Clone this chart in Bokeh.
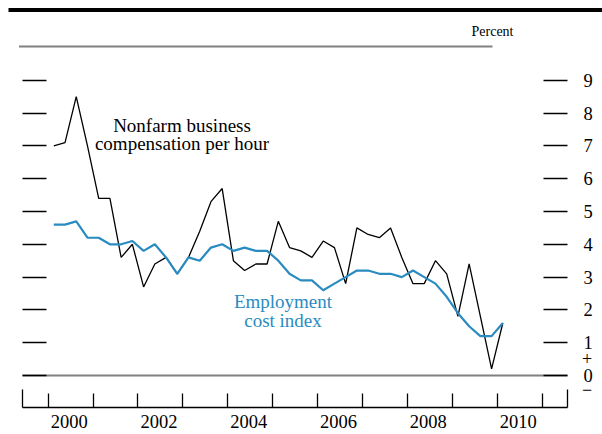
from bokeh.plotting import figure
from bokeh.models import Range1d, LinearAxis, FixedTicker, Label, ColumnDataSource
from bokeh.embed import file_html
from bokeh.resources import INLINE

# ---------------- data ----------------
years = list(range(2000, 2011))
quarter_labels = [f"{y}Q{q}" for y in years for q in (1, 2, 3, 4)][:41]

nonfarm_comp = [7.0, 7.1, 8.5, 7.0,
                5.4, 5.4, 3.6, 4.0,
                2.7, 3.4, 3.6, 3.1,
                3.6, 4.4, 5.3, 5.7,
                3.5, 3.2, 3.4, 3.4,
                4.7, 3.9, 3.8, 3.6,
                4.1, 3.9, 2.8, 4.5,
                4.3, 4.2, 4.5, 3.6,
                2.8, 2.8, 3.5, 3.1,
                1.8, 3.4, 1.8, 0.2,
                1.6]

eci = [4.6, 4.6, 4.7, 4.2,
       4.2, 4.0, 4.0, 4.1,
       3.8, 4.0, 3.6, 3.1,
       3.6, 3.5, 3.9, 4.0,
       3.8, 3.9, 3.8, 3.8,
       3.5, 3.1, 2.9, 2.9,
       2.6, 2.8, 3.0, 3.2,
       3.2, 3.1, 3.1, 3.0,
       3.2, 3.0, 2.8, 2.4,
       1.9, 1.5, 1.2, 1.2,
       1.6]

y_ticks = [0, 1, 2, 3, 4, 5, 6, 7, 8, 9]
year_tick_labels = ["2000", "2002", "2004", "2006", "2008", "2010"]
year_boundaries = list(range(2000, 2012))

# quarter label -> decimal date at mid-quarter
def qpos(lbl):
    return int(lbl[:4]) + (int(lbl[-1]) - 0.5) / 4.0

xq = [qpos(l) for l in quarter_labels]
src = ColumnDataSource(dict(x=xq, q=quarter_labels, nonfarm=nonfarm_comp, eci=eci))

FONT = "Liberation Serif"
BLUE = "#2a8bc0"
GREY = "#808080"

# visible plotting box (axis extents) in data units
XL, XR = 1999.428, 2011.566
YB = -0.966
# whole canvas in data units
CX0, CX1 = 1998.938, 2012.345
CY0, CY1 = -1.799, 11.433

p = figure(width=602, height=434, output_backend="svg", toolbar_location=None,
           x_range=Range1d(CX0, CX1), y_range=Range1d(CY0, CY1),
           x_axis_type=None, y_axis_type=None, min_border=0)
p.outline_line_color = None
p.grid.visible = False
p.background_fill_color = "white"
p.border_fill_color = "white"

# decorations: heavy top rule, grey rule, zero line
p.segment(x0=[1999.116], y0=[11.143], x1=[CX1], y1=[11.143], line_color="black", line_width=4)
p.segment(x0=[1999.35], y0=[10.03], x1=[2009.895], y1=[10.03], line_color=GREY, line_width=2)
p.segment(x0=[XL], y0=[0], x1=[XR], y1=[0], line_color=GREY, line_width=2)

# left ticks (no labels)
la = LinearAxis(ticker=FixedTicker(ticks=[], minor_ticks=y_ticks), fixed_location=XL,
                axis_line_color=None, major_tick_in=0, major_tick_out=0,
                minor_tick_in=24, minor_tick_out=0, minor_tick_line_color="black",
                minor_tick_line_width=1.3)
p.add_layout(la, "left")

# right ticks with labels
ra = LinearAxis(ticker=FixedTicker(ticks=y_ticks, minor_ticks=[]), fixed_location=XR,
                major_tick_in=24, major_tick_out=0, minor_tick_in=0, minor_tick_out=0,
                axis_line_color=None, major_tick_line_color="black",
                major_tick_line_width=1.3, major_label_standoff=16,
                major_label_text_font=FONT, major_label_text_font_size="18.5px",
                major_label_text_color="black")
p.add_layout(ra, "right")

# bottom axis: year boundaries as minor ticks, labels mid-year
label_pos = [int(t) + 0.467 for t in year_tick_labels]
xa = LinearAxis(ticker=FixedTicker(ticks=label_pos, minor_ticks=year_boundaries),
                fixed_location=YB, bounds=(XL, XR),
                major_label_overrides={pos: t for pos, t in zip(label_pos, year_tick_labels)},
                major_tick_in=0, major_tick_out=0, minor_tick_in=14, minor_tick_out=0,
                minor_tick_line_color="black", minor_tick_line_width=1.3,
                axis_line_color="black", axis_line_width=1.3,
                major_label_standoff=8, major_label_text_font=FONT,
                major_label_text_font_size="18.5px", major_label_text_color="black")
p.add_layout(xa, "below")

# taller end ticks of the time axis
ea = LinearAxis(ticker=FixedTicker(ticks=[], minor_ticks=[XL + 0.003, XR - 0.003]),
                fixed_location=YB, axis_line_color=None,
                major_tick_in=0, major_tick_out=0, minor_tick_in=18, minor_tick_out=0,
                minor_tick_line_color="black", minor_tick_line_width=1.3)
p.add_layout(ea, "below")

# series
p.line("x", "nonfarm", source=src, line_color="black", line_width=1.3)
p.line("x", "eci", source=src, line_color=BLUE, line_width=2.2)

# annotations
def lab(x, y, text, color="black", size="19px", align="center", baseline="alphabetic"):
    p.add_layout(Label(x=x, y=y, text=text, text_font=FONT, text_font_size=size,
                       text_color=color, text_align=align, text_baseline=baseline))

lab(2002.98, 7.631, "Nonfarm business")
lab(2002.98, 7.064, "compensation per hour")
lab(2005.229, 2.247, "Employment", color=BLUE)
lab(2005.229, 1.662, "cost index", color=BLUE)
lab(2010.363, 10.503, "Percent", size="14px", align="right")
lab(2012.0, 0.518, "+", size="18px", baseline="middle")
lab(2012.0, -0.427, "\u2212", size="18px", baseline="middle")

open("out.html", "w").write(file_html(p, INLINE))
